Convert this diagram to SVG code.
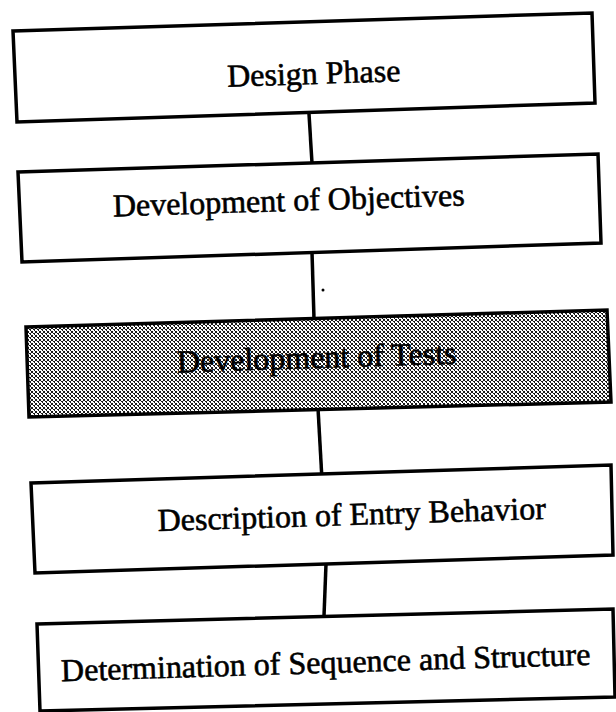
<svg xmlns="http://www.w3.org/2000/svg" width="616" height="712" viewBox="0 0 616 712">
  <defs>
    <pattern id="dither" width="4" height="4" patternUnits="userSpaceOnUse">
      <rect width="4" height="4" fill="#ffffff"/>
      <rect x="0" y="0" width="1" height="1" fill="#1a1a1a"/>
      <rect x="1" y="1" width="1" height="1" fill="#1a1a1a"/>
      <rect x="2" y="2" width="1" height="1" fill="#1a1a1a"/>
      <rect x="3" y="3" width="1" height="1" fill="#1a1a1a"/>
      <rect x="3" y="0" width="1" height="1" fill="#1a1a1a"/>
      <rect x="2" y="1" width="1" height="1" fill="#1a1a1a"/>
      <rect x="0" y="3" width="1" height="1" fill="#1a1a1a"/>
    </pattern>
    <style>
      .box { fill: #ffffff; stroke: #000000; stroke-width: 3.5; stroke-linejoin: miter; }
      .shaded { fill: url(#dither); stroke: #000000; stroke-width: 3.5; }
      .label { font-family: "Liberation Serif", "Times New Roman", serif; font-size: 32px; fill: #000000; stroke: #000000; stroke-width: 0.6; text-anchor: middle; }
      .conn { stroke: #000000; stroke-width: 3.5; fill: none; }
    </style>
  </defs>
  <rect width="616" height="712" fill="#ffffff"/>

  <g id="connectors">
    <line class="conn" x1="309" y1="114" x2="312" y2="163"/>
    <line class="conn" x1="312" y1="252" x2="314" y2="319"/>
    <line class="conn" x1="318" y1="408" x2="322" y2="480"/>
    <line class="conn" x1="326" y1="564" x2="324" y2="616"/>
  </g>

  <g id="node-design-phase">
    <path class="box" d="M13,31 L592,13 L595,103 L17,122 Z"/>
    <text class="label" x="314" y="84" transform="rotate(-1.8 314 84)">Design Phase</text>
  </g>

  <g id="node-objectives">
    <path class="box" d="M18,172 L598,154 L601,243 L22,262 Z"/>
    <text class="label" x="289" y="211" transform="rotate(-1.8 289 211)">Development of Objectives</text>
  </g>

  <circle cx="323" cy="290" r="1.5" fill="#000000"/>

  <g id="node-tests">
    <path class="shaded" d="M26,327 L607,310 L611,402 L29,417 Z"/>
    <text class="label" x="317" y="368" transform="rotate(-1.8 317 368)">Development of Tests</text>
  </g>

  <g id="node-entry-behavior">
    <path class="box" d="M31,483 L611,465 L613,555 L35,573 Z"/>
    <text class="label" x="352" y="525" transform="rotate(-1.8 352 525)">Description of Entry Behavior</text>
  </g>

  <g id="node-sequence-structure">
    <path class="box" d="M37,624 L613,609 L615,697 L40,711 Z"/>
    <text class="label" x="326" y="673" transform="rotate(-1.8 326 673)">Determination of Sequence and Structure</text>
  </g>
</svg>
